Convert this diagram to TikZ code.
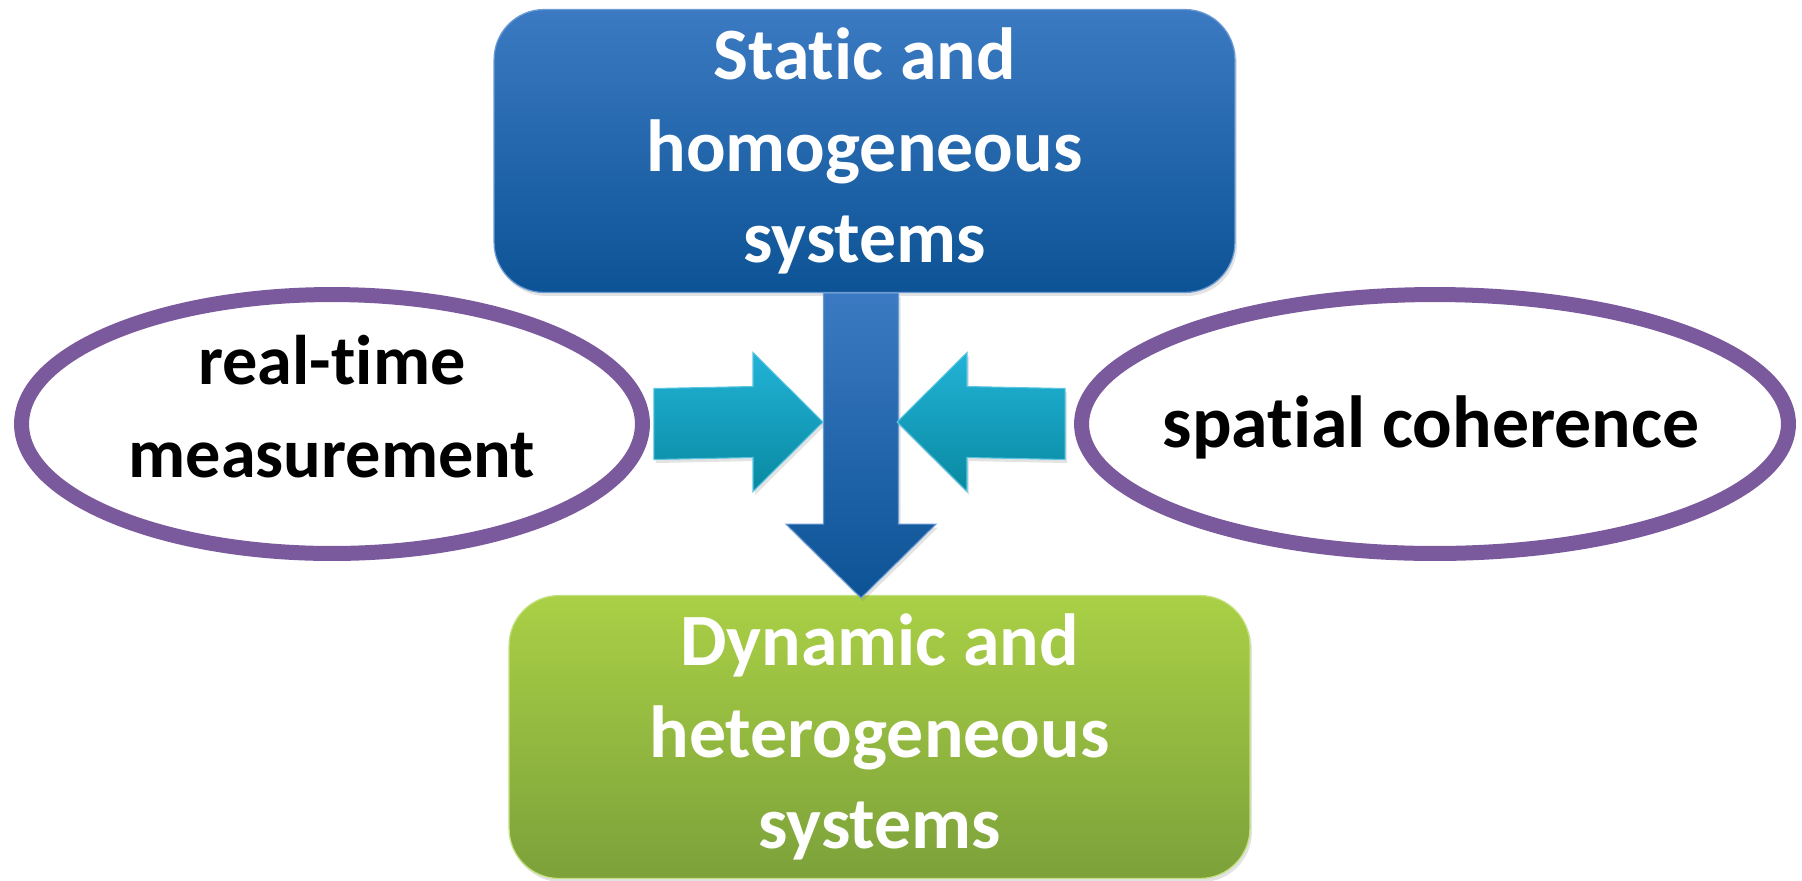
\documentclass[tikz,border=0pt]{standalone}
\usepackage{fontspec}
\setmainfont{Carlito}[Ligatures=NoCommon]
\usetikzlibrary{shapes.geometric,calc,shadows}
\definecolor{bluetop}{HTML}{3B7AC2}
\definecolor{bluebot}{HTML}{0C5395}
\definecolor{blueline}{HTML}{6C9BD4}
\definecolor{greentop}{HTML}{AAD046}
\definecolor{greenbot}{HTML}{7CA13A}
\definecolor{greenline}{HTML}{C4E07E}
\definecolor{cyantop}{HTML}{22B3D7}
\definecolor{cyanbot}{HTML}{0989A1}
\definecolor{cyanline}{HTML}{5CC6E0}
\definecolor{purp}{HTML}{7A5A9C}
\begin{document}
\begin{tikzpicture}[x=0.02cm,y=-0.02cm,
  softshadow/.style={drop shadow={opacity=0.22, shadow xshift=0.04cm, shadow yshift=-0.07cm}},
  boxstyle/.style={rounded corners=1cm, minimum width=14.82cm, minimum height=5.66cm,
     align=center, text=white, font=\fontsize{42}{52}\selectfont\bfseries, inner sep=0pt,
     line width=0.7pt, softshadow},
  ovalstyle/.style={ellipse, fill=white, draw=purp, line width=0.3cm, inner sep=0pt, softshadow},
  ovaltext/.style={align=center, inner sep=0pt},
  sidearrow/.style={top color=cyantop, bottom color=cyanbot, draw=cyanline, line width=0.6pt, softshadow},
  mainarrow/.style={top color=bluetop, bottom color=bluebot, draw=blueline, line width=0.6pt, softshadow}
]
\useasboundingbox (0,0) rectangle (1802,880);

% boxes
\node[boxstyle, top color=bluetop, bottom color=bluebot, draw=blueline] (top) at (864.5,151)
  {Static and\\homogeneous\\systems};
\node[boxstyle, top color=greentop, bottom color=greenbot, draw=greenline] (bot) at (879.5,737)
  {Dynamic and\\heterogeneous\\systems};

% ellipses
\node[ovalstyle, minimum width=12.42cm, minimum height=5.18cm] (left) at (332,424) {};
\node[ovaltext, font=\fontsize{40}{53}\selectfont\bfseries] (lefttext) at ($(left.center)+(0,-17)$)
  {real-time\\measurement};
\node[ovalstyle, minimum width=14.14cm, minimum height=5.18cm] (right) at (1435,424) {};
\node[ovaltext, font=\fontsize{42}{51}\selectfont\bfseries] (righttext) at ($(right.center)+(-4,3)$)
  {spatial coherence};

% central down arrow from top box to bottom box
\coordinate (dA) at ($(top.south)+(-3.5,0)$);
\coordinate (dB) at ($(bot.north)+(-18.5,3)$);
\path[mainarrow] (dA) ++(-37.5,0) -- ++(0,231) -- ++(-37.5,0) -- (dB)
  -- ($(dA)+(75,231)$) -- ++(-37.5,0) -- ($(dA)+(37.5,0)$) -- cycle;

% side arrows
\coordinate (lT) at (823,422);
\coordinate (rT) at (897,422);
\path[sidearrow] (left.east) ++(4,-35.5) coordinate (lS)
  -- ($(lT)+(-70,-35.5)$) -- ($(lT)+(-70,-69.5)$) -- (lT) -- ($(lT)+(-70,69.5)$)
  -- ($(lT)+(-70,35.5)$) -- ($(lS)+(0,71)$) -- cycle;
\path[sidearrow] (right.west) ++(-9,-35.5) coordinate (rS)
  -- ($(rT)+(70,-35.5)$) -- ($(rT)+(70,-69.5)$) -- (rT) -- ($(rT)+(70,69.5)$)
  -- ($(rT)+(70,35.5)$) -- ($(rS)+(0,71)$) -- cycle;
\end{tikzpicture}
\end{document}
